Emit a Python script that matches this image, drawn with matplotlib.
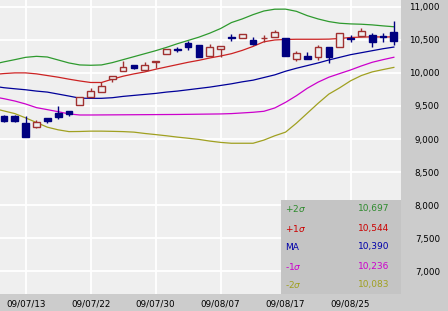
import matplotlib
matplotlib.use("Agg")
import matplotlib.pyplot as plt
from matplotlib.patches import Rectangle

# ---- data ----
band_dates = ["09/07/08", "09/07/09", "09/07/10", "09/07/13", "09/07/14", "09/07/15", "09/07/16",
              "09/07/17", "09/07/21", "09/07/22", "09/07/23", "09/07/24", "09/07/27", "09/07/28",
              "09/07/29", "09/07/30", "09/07/31", "09/08/03", "09/08/04", "09/08/05", "09/08/06",
              "09/08/07", "09/08/10", "09/08/11", "09/08/12", "09/08/13", "09/08/14", "09/08/17",
              "09/08/18", "09/08/19", "09/08/20", "09/08/21", "09/08/24", "09/08/25", "09/08/26",
              "09/08/27", "09/08/28", "09/08/31"]
candle_dates = band_dates[1:]

opens = [9349, 9349, 9239, 9178, 9323, 9390, 9420, 9515, 9640, 9707, 9903, 10029, 10115, 10044,
         10170, 10281, 10360, 10456, 10421, 10260, 10356, 10545, 10523, 10497, 10520, 10547,
         10532, 10205, 10260, 10236, 10387, 10387, 10530, 10557, 10572, 10562, 10613]
highs = [9360, 9370, 9349, 9288, 9323, 9500, 9420, 9640, 9767, 9858, 9949, 10180, 10115, 10165,
         10180, 10356, 10396, 10477, 10421, 10437, 10411, 10583, 10592, 10538, 10573, 10648,
         10532, 10335, 10320, 10421, 10387, 10598, 10573, 10674, 10598, 10598, 10784]
lows = [9265, 9255, 9036, 9163, 9248, 9304, 9353, 9515, 9640, 9707, 9858, 10029, 10054, 10044,
        10070, 10281, 10316, 10346, 10245, 10260, 10245, 10486, 10523, 10421, 10471, 10547,
        10260, 10180, 10205, 10195, 10145, 10387, 10471, 10557, 10396, 10471, 10421]
closes = [9278, 9278, 9036, 9254, 9269, 9329, 9375, 9640, 9731, 9802, 9949, 10094, 10079, 10119,
          10180, 10356, 10352, 10387, 10245, 10387, 10411, 10530, 10592, 10437, 10526, 10613,
          10260, 10305, 10205, 10387, 10236, 10598, 10515, 10637, 10471, 10538, 10486]

plus2 = [10130, 10167, 10200, 10235, 10250, 10240, 10195, 10150, 10120, 10115, 10120, 10155,
         10200, 10245, 10290, 10335, 10385, 10440, 10490, 10540, 10600, 10670, 10760, 10815,
         10880, 10935, 10962, 10963, 10930, 10865, 10815, 10775, 10750, 10740, 10735, 10725,
         10710, 10697]
plus1 = [9975, 9990, 10000, 10000, 9985, 9960, 9935, 9905, 9878, 9855, 9855, 9905, 9950, 9985,
         10015, 10055, 10090, 10125, 10160, 10190, 10225, 10255, 10290, 10340, 10400, 10470,
         10497, 10505, 10508, 10508, 10508, 10510, 10520, 10535, 10540, 10545, 10542, 10544]
ma = [9800, 9776, 9760, 9745, 9725, 9710, 9680, 9650, 9618, 9616, 9616, 9625, 9645, 9660, 9675,
      9690, 9710, 9725, 9745, 9765, 9785, 9810, 9835, 9865, 9890, 9930, 9970, 10025, 10070,
      10110, 10150, 10195, 10235, 10275, 10305, 10335, 10365, 10390]
minus1 = [9640, 9610, 9575, 9530, 9475, 9445, 9414, 9380, 9364, 9364, 9365, 9366, 9367, 9368,
          9369, 9370, 9371, 9372, 9374, 9376, 9378, 9380, 9385, 9395, 9405, 9420, 9470, 9555,
          9655, 9767, 9860, 9935, 9990, 10044, 10105, 10160, 10200, 10236]
minus2 = [9465, 9425, 9385, 9320, 9250, 9180, 9140, 9113, 9115, 9120, 9120, 9117, 9113, 9105,
          9085, 9068, 9050, 9030, 9013, 8995, 8970, 8950, 8937, 8937, 8937, 8985, 9050, 9105,
          9240, 9390, 9540, 9680, 9775, 9880, 9960, 10015, 10050, 10083]

tick_dates = ["09/07/13", "09/07/22", "09/07/30", "09/08/07", "09/08/17", "09/08/25"]
yticks = [7000, 7500, 8000, 8500, 9000, 9500, 10000, 10500, 11000]

legend_labels = ["+2$\\sigma$", "+1$\\sigma$", "MA", "-1$\\sigma$", "-2$\\sigma$"]
legend_values = ["10,697", "10,544", "10,390", "10,236", "10,083"]

# ---- style ----
BG = "#efefef"
PANEL = "#cccccc"
band_colors = ["#2e9a2e", "#cc2222", "#000099", "#cc00cc", "#a0a020"]
text_colors = ["#2e8b2e", "#cc0000", "#0000aa", "#cc00cc", "#a0a020"]
UP = "#a03030"
DOWN = "#000080"

W, H = 448, 311
fig = plt.figure(figsize=(W / 100, H / 100), dpi=100)
fig.patch.set_facecolor(PANEL)
ax = fig.add_axes([0, 17 / H, 401 / W, 294 / H])
ax.set_facecolor(BG)

xi = {d: i for i, d in enumerate(candle_dates)}
bx = [i - 1 for i in range(len(band_dates))]

for vals, col in zip([plus2, plus1, ma, minus1, minus2], band_colors):
    ax.plot(bx, vals, color=col, lw=0.9, zorder=2)

bw = 0.62
for i, (o, h, l, c) in enumerate(zip(opens, highs, lows, closes)):
    up = c >= o
    col = UP if up else DOWN
    ax.vlines(i, l, h, color=col, lw=1.0, zorder=3)
    bottom = min(o, c)
    height = max(abs(c - o), 8)
    ax.add_patch(Rectangle((i - bw / 2, bottom), bw, height,
                           facecolor=BG if up else DOWN, edgecolor=col, lw=1.0, zorder=4))

ax.set_xlim(-0.37, 36.66)
ax.set_ylim(6660, 11101)
ax.set_xticks([xi[d] for d in tick_dates])
ax.set_xticklabels(tick_dates)
ax.set_yticks(yticks)
ax.set_yticklabels([f"{v:,}" for v in yticks])
ax.grid(True, color="white", lw=1.3, zorder=1)
ax.set_axisbelow(True)
for s in ax.spines.values():
    s.set_visible(False)
ax.tick_params(axis="both", length=0, labelsize=6.3, colors="black")
ax.tick_params(axis="x", pad=4)
ax.yaxis.tick_right()
ax.tick_params(axis="y", pad=28)
for t in ax.yaxis.get_major_ticks():
    t.label2.set_horizontalalignment("right")

# legend box
box = Rectangle((281 / 401, 0), 120 / 401, 94 / 294, transform=ax.transAxes,
                facecolor="#c4c4c4", edgecolor="none", zorder=6)
ax.add_patch(box)
for k, (lab, val, col) in enumerate(zip(legend_labels, legend_values, text_colors)):
    ypix = 209 + k * 19
    yax = 1 - ypix / 294
    ax.text(285 / 401, yax, lab, transform=ax.transAxes, color=col, fontsize=6.5,
            va="center", ha="left", zorder=7)
    ax.text(389 / 401, yax, val, transform=ax.transAxes, color=col, fontsize=6.5,
            va="center", ha="right", zorder=7)

fig.savefig("out.png", dpi=100, facecolor=fig.get_facecolor())
